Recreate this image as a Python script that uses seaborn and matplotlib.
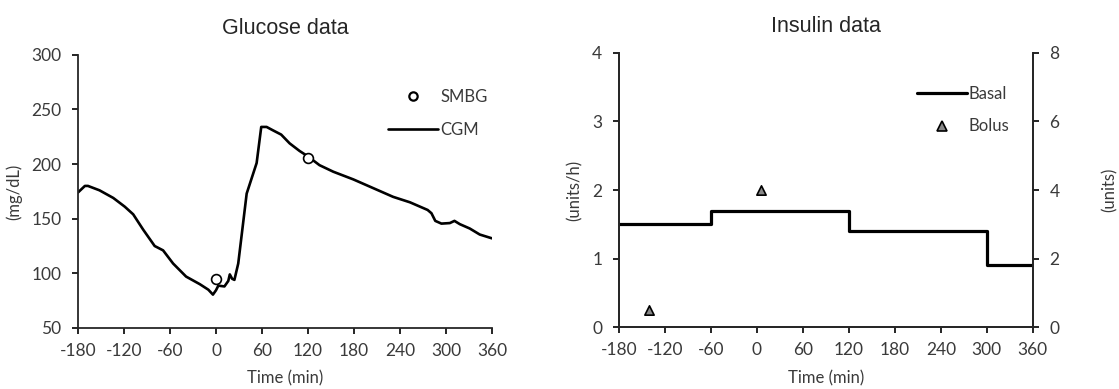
import numpy as np
import pandas as pd
import seaborn as sns
from matplotlib import pyplot as plt
from matplotlib.lines import Line2D

# glucose data
cgm_time = [-180, -171, -167, -152, -134, -119, -108, -95, -80, -69, -56, -39, -21, -10, -4,
            0, 3, 11, 16, 18, 21, 24, 29, 40, 53, 59, 66, 74, 85, 96, 109, 120, 135, 153,
            179, 205, 231, 253, 276, 281, 286, 294, 305, 311, 318, 331, 344, 360]
cgm_value = [174, 180, 180, 176, 169, 161, 154, 140, 125, 121, 109, 97, 90, 85, 80.5,
             84.5, 88.7, 88, 93, 99, 95, 94, 109, 173, 201, 234, 234, 231, 227, 219, 212, 207, 199, 193,
             186, 178, 170, 165, 158, 155, 148, 145.5, 146, 148, 145, 141, 135.5, 132]
smbg_time = [0, 120]
smbg_value = [95, 206]

# insulin data
basal_time = [-180, -60, 120, 300, 360]
basal_rate = [1.5, 1.7, 1.4, 0.9, 0.9]
bolus_time = [-140, 5]
bolus_units = [0.5, 4.0]

xticks = [-180, -120, -60, 0, 60, 120, 180, 240, 300, 360]

sns.set_style('ticks')
plt.rcParams['font.family'] = ['Liberation Sans', 'DejaVu Sans']
plt.rcParams['axes.unicode_minus'] = False
plt.rcParams['axes.linewidth'] = 1.3
plt.rcParams['xtick.major.width'] = 1.2
plt.rcParams['ytick.major.width'] = 1.2
plt.rcParams['xtick.major.size'] = 4
plt.rcParams['ytick.major.size'] = 4
plt.rcParams['xtick.major.pad'] = 7
plt.rcParams['ytick.major.pad'] = 8
plt.rcParams['xtick.color'] = 'black'
plt.rcParams['ytick.color'] = 'black'
tick_col = '#3a3a3a'
lab_font = ['Lato', 'DejaVu Sans']
tick_fs = 12.5
lab_fs = 12

fig = plt.figure(figsize=(11.19, 3.89), dpi=100)
ax1 = fig.add_axes([0.0697, 0.157, 0.37, 0.702])
ax2 = fig.add_axes([0.553, 0.159, 0.370, 0.705])

# ---- glucose
df_cgm = pd.DataFrame({'t': cgm_time, 'g': cgm_value})
df_smbg = pd.DataFrame({'t': smbg_time, 'g': smbg_value})
sns.lineplot(data=df_cgm, x='t', y='g', ax=ax1, color='black', linewidth=1.9)
sns.scatterplot(data=df_smbg, x='t', y='g', ax=ax1, marker='o', s=50,
                facecolor='white', edgecolor='black', linewidth=1.2, zorder=3)
ax1.set_xlim(-180, 360)
ax1.set_ylim(50, 300)
ax1.set_xticks(xticks)
ax1.set_yticks([50, 100, 150, 200, 250, 300])
ax1.set_title('Glucose data', fontsize=15.5, pad=15)
ax1.set_xlabel('Time (min)', fontsize=lab_fs, family=lab_font, color=tick_col)
ax1.set_ylabel('(mg/dL)', fontsize=lab_fs, family=lab_font, color=tick_col)
ax1.xaxis.set_label_coords(0.5, -0.155)
ax1.yaxis.set_label_coords(-0.134, 0.5)
sns.despine(ax=ax1)
h1 = [Line2D([], [], marker='o', color='none', markerfacecolor='white', markeredgecolor='black',
             markeredgewidth=1.6, markersize=6),
      Line2D([], [], color='black', linewidth=1.9)]
leg1 = ax1.legend(h1, ['SMBG', 'CGM'], loc='upper right', bbox_to_anchor=(1.025, 0.93), frameon=False,
                  handlelength=3.0, handletextpad=0.1, labelspacing=1.0,
                  prop={'family': lab_font, 'size': lab_fs})
for t in leg1.get_texts():
    t.set_color(tick_col)

# ---- insulin
df_basal = pd.DataFrame({'t': basal_time, 'r': basal_rate})
df_bolus = pd.DataFrame({'t': bolus_time, 'u': bolus_units})
sns.lineplot(data=df_basal, x='t', y='r', ax=ax2, color='black', linewidth=2.3,
             drawstyle='steps-post')
ax2.set_xlim(-180, 360)
ax2.set_ylim(0, 4)
ax2.set_xticks(xticks)
ax2.set_yticks([0, 1, 2, 3, 4])
ax2.set_title('Insulin data', fontsize=15.5, pad=15)
ax2.set_xlabel('Time (min)', fontsize=lab_fs, family=lab_font, color=tick_col)
ax2.set_ylabel('(units/h)', fontsize=lab_fs, family=lab_font, color=tick_col)
ax2.xaxis.set_label_coords(0.5, -0.158)
ax2.yaxis.set_label_coords(-0.087, 0.5)
ax2.spines['top'].set_visible(False)

ax3 = ax2.twinx()
sns.scatterplot(data=df_bolus, x='t', y='u', ax=ax3, marker='^', s=45,
                color='#888888', edgecolor='black', linewidth=1.2, zorder=3)
ax3.set_ylim(0, 8)
ax3.set_yticks([0, 2, 4, 6, 8])
ax3.set_ylabel('(units)', fontsize=lab_fs, family=lab_font, color=tick_col)
ax3.yaxis.set_label_coords(1.167, 0.5)
ax3.spines['top'].set_visible(False)

h2 = [Line2D([], [], color='black', linewidth=2.3),
      Line2D([], [], marker='^', color='none', markerfacecolor='#888888', markeredgecolor='black',
             markeredgewidth=1.2, markersize=6.5)]
leg2 = ax3.legend(h2, ['Basal', 'Bolus'], loc='upper right', bbox_to_anchor=(0.98, 0.935), frameon=False,
                  handlelength=3.0, handletextpad=0.1, labelspacing=1.0,
                  prop={'family': lab_font, 'size': lab_fs})
for t in leg2.get_texts():
    t.set_color(tick_col)

for a in (ax1, ax2, ax3):
    for lab in a.get_xticklabels() + a.get_yticklabels():
        lab.set_fontsize(tick_fs)
        lab.set_family(lab_font)
        lab.set_color(tick_col)

fig.savefig('out.png', dpi=100)
